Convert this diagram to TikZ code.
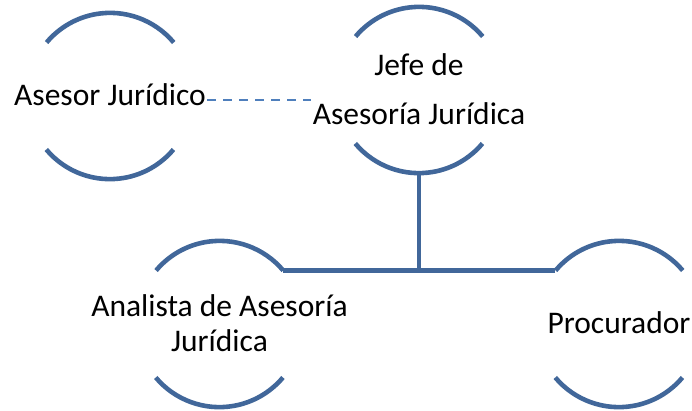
\documentclass[tikz,border=0pt]{standalone}
\usepackage{fontspec}
\setmainfont{Carlito}
\usepackage{xcolor}
\usetikzlibrary{positioning}

\definecolor{rimblue}{HTML}{41679A}
\definecolor{dashblue}{HTML}{4F7FBC}
\newcommand{\rolefont}{\fontsize{31.5}{35}\selectfont}

\tikzset{
    rolering/.style={circle, minimum size=166pt, inner sep=0pt},
    roletext/.style={align=center, font=\rolefont, inner sep=1.5pt, anchor=base},
    rim/.style={line width=4.6pt, draw=rimblue},
    link/.style={line width=4.4pt, draw=rimblue},
    dashlink/.style={line width=2.3pt, draw=dashblue, dash pattern=on 9pt off 7pt}
}

\begin{document}
\begin{tikzpicture}[x=1pt, y=-1pt]
    \useasboundingbox (0,0) rectangle (692,410);

    % Rings (pixel positions of the centres)
    \node[rolering] (asesor)     at (110,96)    {};
    \node[rolering] (jefe)       at (419,90)    {};
    \node[rolering] (analista)   at (219.5,324) {};
    \node[rolering] (procurador) at (619,324)   {};

    % Upper and lower arcs of every ring
    \foreach \n in {asesor,jefe,analista,procurador} {
        \draw[rim] (\n.40) arc[start angle=40, end angle=140, radius=83pt];
        \draw[rim] (\n.220) arc[start angle=220, end angle=320, radius=83pt];
    }

    % Texts (base = baseline of the last line)
    \node[roletext] (asesortxt) at ([yshift=-9pt]asesor.center) {Asesor Jurídico};
    \node[roletext] (jefetxt) at ([yshift=-34pt]jefe.center) {Jefe de\\[14pt]Asesoría Jurídica};
    \node[roletext] (analistatxt) at ([yshift=-27pt]analista.center) {Analista de Asesoría\\Jurídica};
    \node[roletext] (procuradortxt) at ([yshift=-9pt]procurador.center) {Procurador};

    % Connectors
    \coordinate (jefeleft) at (asesortxt.east -| jefetxt.west);
    \draw[dashlink] ([yshift=-6pt]asesortxt.east) -- ([yshift=-6pt]jefeleft);
    \draw[link] (jefe.south) -- (jefe.south |- analista.40);
    \draw[link] (analista.40) -- (procurador.140);
\end{tikzpicture}
\end{document}
